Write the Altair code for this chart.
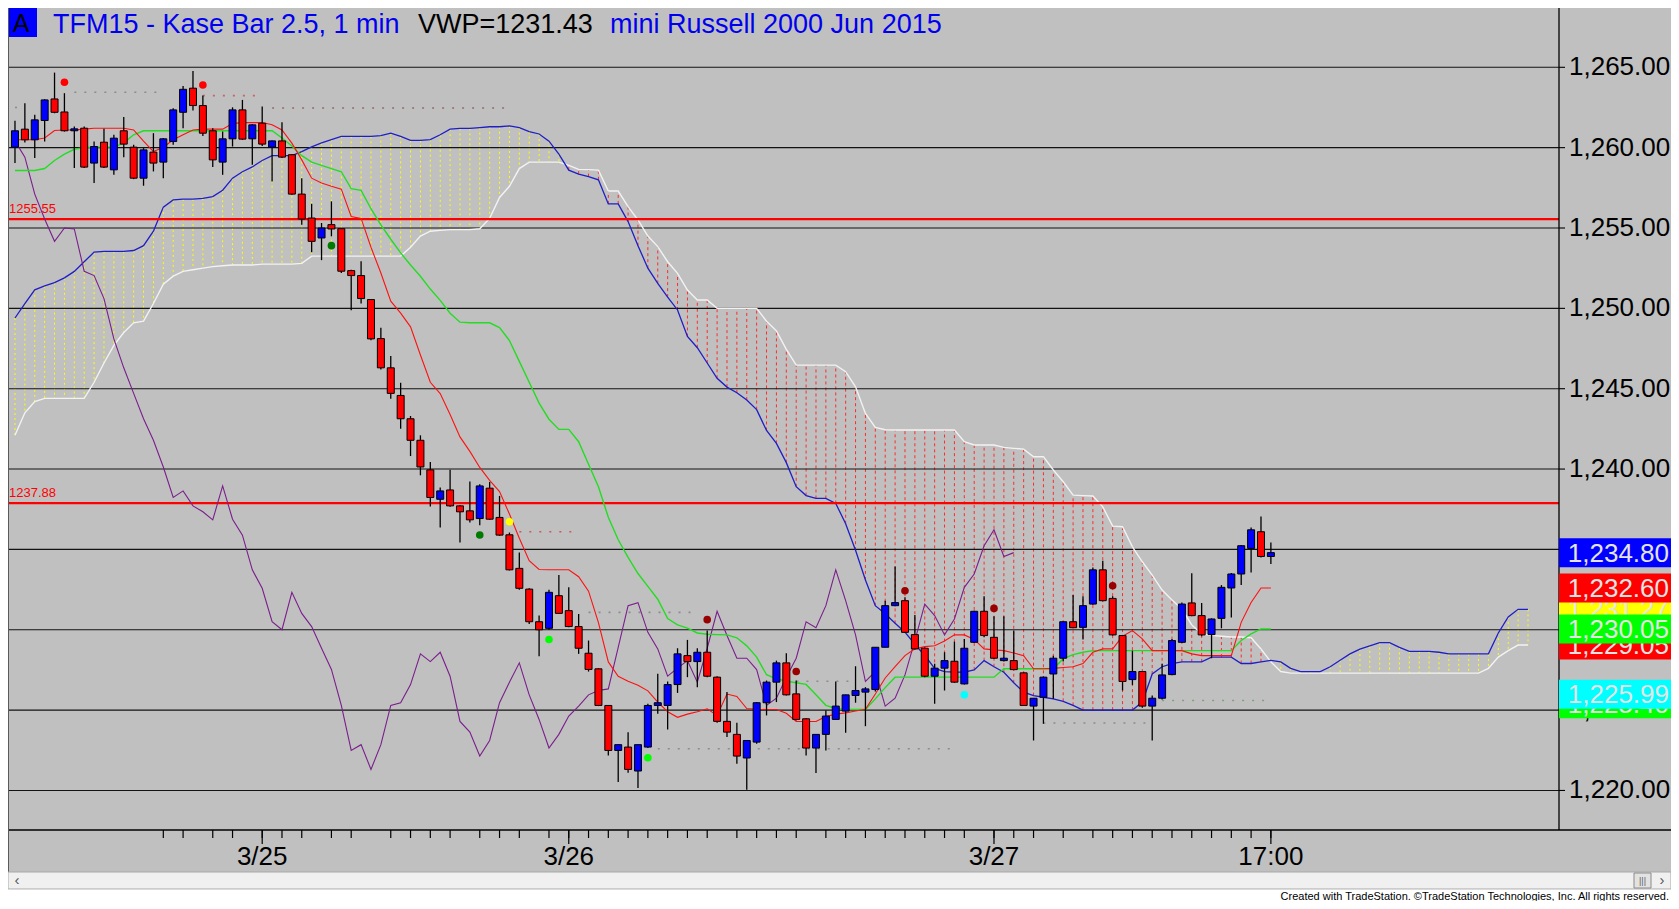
import altair as alt
import pandas as pd

# ---------------- data ----------------
opens = [1260.03, 1261.15, 1260.49, 1261.69, 1263.03, 1262.22, 1261.05, 1261.21, 1259.04, 1260.34,
         1258.62, 1261.05, 1260.03, 1258.10, 1259.72, 1259.10, 1260.38, 1262.20, 1263.70, 1262.62,
         1261.05, 1259.10, 1260.55, 1262.35, 1260.55, 1261.52, 1260.03, 1260.42, 1259.56, 1257.11,
         1255.62, 1254.38, 1255.21, 1254.96, 1252.35, 1252.04, 1250.55, 1248.12, 1246.30, 1244.58,
         1243.13, 1241.79, 1239.95, 1238.12, 1238.70, 1237.71, 1237.40, 1236.92, 1238.81, 1236.99,
         1235.91, 1233.82, 1232.53, 1230.50, 1230.09, 1232.12, 1231.19, 1230.20, 1228.54, 1227.57,
         1225.29, 1222.49, 1222.70, 1221.21, 1222.70, 1225.29, 1225.29, 1226.59, 1228.39, 1228.02,
         1228.60, 1227.05, 1224.30, 1223.49, 1222.02, 1223.01, 1225.46, 1226.74, 1227.94, 1226.01,
         1224.46, 1222.64, 1223.49, 1224.42, 1224.94, 1225.91, 1226.12, 1226.28, 1228.91, 1231.50,
         1231.81, 1229.70, 1228.85, 1227.11, 1227.61, 1228.04, 1226.63, 1229.22, 1231.15, 1229.53,
         1228.08, 1228.08, 1227.32, 1225.25, 1225.80, 1227.25, 1228.23, 1230.50, 1230.15, 1231.60,
         1233.73, 1231.95, 1229.64, 1226.90, 1227.40, 1225.25, 1225.74, 1227.21, 1229.22, 1231.67,
         1230.88, 1229.70, 1230.71, 1232.60, 1233.47, 1235.06, 1236.10, 1234.56]
highs = [1261.67, 1262.76, 1262.04, 1263.01, 1264.67, 1263.39, 1261.31, 1261.31, 1260.38, 1261.17,
         1260.80, 1261.90, 1260.18, 1259.97, 1260.90, 1260.60, 1262.45, 1263.84, 1264.77, 1263.24,
         1261.21, 1261.00, 1262.51, 1262.97, 1261.45, 1262.56, 1260.45, 1261.58, 1259.60, 1258.10,
         1256.51, 1255.31, 1256.66, 1255.00, 1252.41, 1252.93, 1250.58, 1248.79, 1247.03, 1245.37,
         1243.30, 1242.10, 1240.44, 1238.85, 1239.95, 1237.75, 1239.22, 1239.06, 1239.20, 1238.33,
         1236.05, 1234.81, 1232.58, 1230.88, 1232.49, 1233.40, 1232.64, 1230.98, 1229.33, 1227.60,
         1225.32, 1222.85, 1223.63, 1222.85, 1225.39, 1227.26, 1226.78, 1228.85, 1229.37, 1228.85,
         1229.95, 1227.11, 1226.12, 1224.21, 1223.11, 1225.50, 1226.84, 1228.08, 1228.54, 1226.84,
         1224.50, 1223.49, 1224.98, 1226.78, 1225.95, 1227.73, 1226.43, 1228.91, 1231.81, 1233.94,
         1232.02, 1230.92, 1228.90, 1227.88, 1228.60, 1229.26, 1229.43, 1231.19, 1232.08, 1230.84,
         1230.84, 1229.95, 1227.36, 1225.74, 1227.09, 1228.39, 1230.50, 1232.16, 1232.08, 1233.88,
         1234.29, 1232.08, 1229.68, 1228.70, 1227.44, 1225.91, 1227.88, 1229.43, 1231.70, 1233.51,
         1231.67, 1230.71, 1232.78, 1233.53, 1235.27, 1236.36, 1237.05, 1235.43]
lows = [1259.04, 1260.32, 1259.35, 1260.38, 1262.14, 1261.00, 1258.73, 1258.73, 1257.80, 1258.73,
        1258.31, 1259.41, 1258.04, 1257.63, 1258.52, 1258.10, 1260.18, 1261.21, 1262.31, 1260.73,
        1258.79, 1258.31, 1260.07, 1260.49, 1258.93, 1260.11, 1257.90, 1259.35, 1257.07, 1255.21,
        1253.49, 1253.00, 1254.48, 1252.20, 1249.88, 1250.30, 1248.02, 1246.20, 1244.38, 1242.51,
        1240.81, 1239.61, 1237.67, 1236.36, 1237.65, 1235.43, 1236.67, 1236.51, 1236.84, 1235.85,
        1233.69, 1232.49, 1230.36, 1228.35, 1230.00, 1230.98, 1230.15, 1228.50, 1227.40, 1225.25,
        1222.18, 1220.53, 1221.10, 1220.15, 1222.65, 1224.77, 1223.80, 1226.07, 1227.05, 1226.43,
        1227.05, 1224.21, 1223.32, 1221.67, 1220.05, 1222.90, 1224.67, 1225.50, 1225.91, 1224.36,
        1222.18, 1221.08, 1222.49, 1224.40, 1223.59, 1225.46, 1224.00, 1226.16, 1228.91, 1231.46,
        1229.80, 1228.77, 1227.05, 1225.39, 1226.22, 1226.70, 1226.59, 1229.18, 1229.53, 1228.19,
        1228.02, 1227.48, 1225.29, 1223.11, 1224.15, 1225.70, 1228.02, 1230.09, 1229.39, 1231.56,
        1231.77, 1229.64, 1226.22, 1226.57, 1225.14, 1223.11, 1225.66, 1227.17, 1229.18, 1230.84,
        1229.59, 1228.23, 1230.09, 1230.77, 1232.78, 1233.57, 1234.50, 1234.09]
closes = [1261.05, 1260.49, 1261.73, 1262.97, 1262.20, 1261.05, 1261.17, 1258.79, 1260.07, 1258.79,
          1260.59, 1260.22, 1258.10, 1259.86, 1259.04, 1260.55, 1262.35, 1263.63, 1262.62, 1260.90,
          1259.24, 1260.55, 1262.35, 1260.53, 1261.42, 1260.22, 1260.42, 1259.41, 1257.11, 1255.56,
          1254.17, 1255.00, 1254.94, 1252.31, 1252.04, 1250.61, 1248.10, 1246.30, 1244.71, 1243.13,
          1241.79, 1240.13, 1238.23, 1238.64, 1237.71, 1237.34, 1236.84, 1238.95, 1236.88, 1235.89,
          1233.73, 1232.58, 1230.50, 1230.00, 1232.33, 1231.02, 1230.20, 1228.85, 1227.53, 1225.29,
          1222.49, 1222.85, 1221.31, 1222.85, 1225.29, 1225.46, 1226.59, 1228.50, 1228.02, 1228.60,
          1227.11, 1224.30, 1223.63, 1222.14, 1223.11, 1225.46, 1226.74, 1227.94, 1225.95, 1224.42,
          1222.64, 1223.49, 1224.63, 1225.25, 1225.95, 1226.22, 1226.32, 1228.91, 1231.50, 1231.69,
          1229.84, 1228.81, 1227.11, 1227.61, 1228.08, 1226.74, 1228.85, 1231.15, 1229.64, 1228.23,
          1228.23, 1227.52, 1225.29, 1225.74, 1227.05, 1228.23, 1230.50, 1230.13, 1231.50, 1233.73,
          1231.81, 1229.68, 1226.78, 1227.40, 1225.25, 1225.74, 1227.19, 1229.33, 1231.60, 1230.88,
          1229.68, 1230.67, 1232.64, 1233.47, 1235.23, 1236.22, 1234.56, 1234.80]

tenkan = [1260.49, 1260.49, 1260.49, 1260.60, 1261.07, 1261.10, 1261.10, 1261.15, 1261.21, 1261.21,
          1261.21, 1261.21, 1261.10, 1260.40, 1259.76, 1260.03, 1260.49, 1260.80, 1261.10, 1261.15,
          1261.15, 1261.15, 1261.50, 1261.56, 1261.56, 1261.56, 1261.42, 1261.10, 1260.28, 1259.24,
          1258.10, 1257.80, 1257.60, 1257.42, 1255.72, 1255.60, 1253.80, 1252.20, 1250.45, 1249.70,
          1248.85, 1247.10, 1245.40, 1244.70, 1243.40, 1242.00, 1241.10, 1240.10, 1239.30, 1238.60,
          1237.20, 1235.70, 1234.30, 1233.75, 1233.73, 1233.73, 1233.73, 1233.30, 1232.40, 1230.45,
          1228.00, 1227.10, 1226.80, 1226.55, 1226.20, 1225.50, 1224.90, 1224.55, 1224.75, 1224.90,
          1225.08, 1224.67, 1226.00, 1225.85, 1225.10, 1225.05, 1225.04, 1225.04, 1224.80, 1224.30,
          1224.29, 1224.29, 1224.60, 1224.75, 1224.83, 1224.95, 1225.05, 1226.00, 1227.00, 1227.70,
          1228.39, 1228.81, 1228.95, 1229.00, 1229.30, 1229.68, 1229.68, 1229.40, 1228.81, 1228.75,
          1228.70, 1228.55, 1228.39, 1227.57, 1227.57, 1227.60, 1227.65, 1227.70, 1227.90, 1228.60,
          1228.81, 1228.81, 1229.60, 1229.95, 1229.43, 1228.70, 1228.70, 1228.70, 1228.70, 1228.50,
          1228.39, 1228.39, 1228.39, 1228.39, 1230.46, 1231.70, 1232.60, 1232.60]
kijun = [1258.58, 1258.58, 1258.58, 1258.70, 1259.20, 1259.60, 1259.90, 1260.00, 1260.03, 1260.03,
         1260.03, 1260.30, 1260.80, 1261.05, 1261.05, 1261.05, 1261.05, 1261.05, 1261.05, 1261.05,
         1261.05, 1261.05, 1261.05, 1261.05, 1261.05, 1261.05, 1261.05, 1260.60, 1260.10, 1259.50,
         1259.10, 1258.90, 1258.70, 1258.50, 1257.45, 1257.34, 1256.20, 1255.20, 1254.30, 1253.45,
         1252.70, 1252.00, 1251.20, 1250.50, 1249.70, 1249.14, 1249.10, 1249.10, 1249.10, 1248.80,
         1248.00, 1246.70, 1245.40, 1244.10, 1243.10, 1242.47, 1242.47, 1241.70, 1240.30, 1238.90,
         1237.00, 1235.60, 1234.50, 1233.50, 1232.70, 1231.90, 1230.70, 1230.30, 1230.10, 1229.80,
         1229.72, 1229.70, 1229.68, 1229.50, 1229.00, 1228.30, 1227.20, 1226.95, 1226.80, 1226.70,
         1226.60, 1225.95, 1225.30, 1225.10, 1225.04, 1225.04, 1225.04, 1225.70, 1226.40, 1227.05,
         1227.05, 1227.05, 1227.05, 1227.05, 1227.05, 1227.05, 1227.05, 1227.05, 1227.05, 1227.05,
         1227.57, 1227.57, 1227.57, 1227.57, 1227.57, 1227.57, 1228.20, 1228.45, 1228.60, 1228.70,
         1228.70, 1228.70, 1228.70, 1228.70, 1228.70, 1228.70, 1228.70, 1228.70, 1228.70, 1228.70,
         1228.70, 1228.70, 1228.70, 1228.70, 1229.33, 1229.74, 1230.05, 1230.05]
span_a = [1249.40, 1250.30, 1251.15, 1251.40, 1251.60, 1251.90, 1252.30, 1252.90, 1253.50, 1253.55,
          1253.55, 1253.55, 1253.60, 1253.90, 1254.80, 1256.30, 1256.75, 1256.80, 1256.80, 1256.85,
          1256.95, 1257.35, 1258.10, 1258.50, 1258.80, 1259.20, 1259.50, 1259.50, 1259.50, 1259.75,
          1260.05, 1260.30, 1260.50, 1260.70, 1260.70, 1260.70, 1260.70, 1260.75, 1260.90, 1260.70,
          1260.45, 1260.45, 1260.50, 1260.80, 1261.15, 1261.20, 1261.20, 1261.25, 1261.30, 1261.30,
          1261.35, 1261.25, 1261.00, 1260.85, 1260.40, 1259.60, 1258.60, 1258.35, 1258.20, 1258.00,
          1256.50, 1256.50, 1255.40, 1253.90, 1252.50, 1251.55, 1250.70, 1249.90, 1248.25, 1247.55,
          1246.60, 1245.65, 1245.10, 1244.75, 1244.30, 1243.70, 1242.40, 1241.60, 1240.40, 1238.90,
          1238.35, 1238.17, 1238.17, 1237.86, 1236.60, 1234.95, 1233.10, 1231.50, 1231.00, 1230.40,
          1229.85, 1229.10, 1228.40, 1227.60, 1227.40, 1227.36, 1227.36, 1227.50, 1228.08, 1227.70,
          1227.36, 1226.70, 1226.12, 1225.90, 1225.80, 1225.70, 1225.55, 1225.30, 1225.00, 1225.00,
          1225.00, 1225.00, 1225.00, 1225.00, 1225.50, 1227.25, 1227.70, 1227.90, 1228.00, 1228.00,
          1228.00, 1228.30, 1228.30, 1228.30, 1227.90, 1227.90, 1228.00, 1228.10, 1228.00, 1227.60,
          1227.40, 1227.40, 1227.40, 1227.70, 1228.10, 1228.50, 1228.80, 1229.00, 1229.20, 1229.20,
          1228.90, 1228.65, 1228.65, 1228.65, 1228.60, 1228.50, 1228.50, 1228.50, 1228.50, 1228.50,
          1229.80, 1230.80, 1231.27, 1231.27]
span_b = [1242.10, 1243.50, 1244.20, 1244.40, 1244.40, 1244.40, 1244.40, 1244.40, 1245.40, 1246.60,
          1247.70, 1248.50, 1249.10, 1249.20, 1250.30, 1251.50, 1252.00, 1252.30, 1252.40, 1252.50,
          1252.60, 1252.65, 1252.70, 1252.70, 1252.70, 1252.75, 1252.75, 1252.75, 1252.75, 1252.80,
          1253.25, 1253.25, 1253.25, 1253.25, 1253.25, 1253.25, 1253.25, 1253.25, 1253.25, 1253.25,
          1253.80, 1254.50, 1254.80, 1254.85, 1254.90, 1254.90, 1254.90, 1254.95, 1255.60, 1256.90,
          1257.60, 1258.70, 1259.10, 1259.10, 1259.10, 1259.10, 1258.90, 1258.65, 1258.63, 1258.60,
          1257.30, 1257.30, 1256.33, 1255.50, 1254.50, 1253.84, 1252.90, 1252.18, 1251.14, 1250.52,
          1250.52, 1250.00, 1250.00, 1250.00, 1250.00, 1250.00, 1249.20, 1248.60, 1247.45, 1246.47,
          1246.47, 1246.47, 1246.47, 1246.47, 1246.06, 1245.12, 1243.46, 1242.59, 1242.45, 1242.43,
          1242.43, 1242.43, 1242.43, 1242.43, 1242.43, 1242.43, 1241.70, 1241.50, 1241.50, 1241.50,
          1241.35, 1241.29, 1241.24, 1240.77, 1240.77, 1239.94, 1239.21, 1238.38, 1238.35, 1238.32,
          1237.65, 1236.45, 1236.41, 1235.16, 1234.23, 1233.40, 1232.47, 1231.85, 1231.30, 1230.30,
          1229.75, 1229.65, 1229.60, 1229.55, 1229.55, 1229.50, 1228.80, 1228.00, 1227.40, 1227.30,
          1227.30, 1227.30, 1227.30, 1227.30, 1227.30, 1227.30, 1227.30, 1227.30, 1227.30, 1227.30,
          1227.30, 1227.30, 1227.30, 1227.30, 1227.30, 1227.30, 1227.30, 1227.30, 1227.30, 1227.60,
          1228.30, 1228.70, 1229.05, 1229.05]
chikou_lag = 26

# horizontal support / resistance lines
hline_prices = [1255.55, 1237.88]
hline_labels = ["1255.55", "1237.88"]

# faint dotted levels: start bar, end bar, price, colour
lvl_start = [6, 19, 0, 26, 51, 58, 65, 77, 104, 116]
lvl_end = [15, 25, 1, 50, 57, 69, 95, 85, 115, 127]
lvl_price = [1263.45, 1263.24, 1262.50, 1262.47, 1236.10, 1231.08, 1222.60, 1226.80, 1224.20, 1225.60]
lvl_color = ["#8C8C8C", "#C86464", "#8C8C8C", "#946C6C", "#C85A5A", "#8C8C8C", "#8C8C8C", "#8C8C8C", "#8C8C8C", "#7FA07F"]

# signal dots
dot_bar = [5, 19, 32, 47, 50, 54, 64, 70, 79, 90, 96, 99, 111]
dot_price = [1264.07, 1263.90, 1253.90, 1235.90, 1236.72, 1229.39, 1222.04, 1230.63, 1227.40, 1232.43, 1225.95, 1231.33, 1232.74]
dot_color = ["#FF0000", "#FF0000", "#007A00", "#007A00", "#FFFF00", "#00FF00", "#00FF00",
             "#990000", "#990000", "#990000", "#00FFFF", "#990000", "#990000"]

# price boxes on the right (drawing order = stacking order)
box_price = [1229.05, 1231.27, 1230.05, 1232.60, 1234.80, 1225.40, 1225.99]
box_text = ["1,229.05", "1,231.27", "1,230.05", "1,232.60", "1,234.80", "1,225.40", "1,225.99"]
box_color = ["#FF0000", "#FFFF00", "#00FF00", "#FF0000", "#0000FF", "#00FF00", "#00FFFF"]

# time axis
tick_bars = [15, 17, 20, 22, 25, 27, 29, 32, 34, 38, 40, 42, 44, 47, 49, 51, 54, 56, 58, 60, 62, 64,
             66, 68, 70, 73, 75, 77, 79, 82, 84, 86, 88, 90, 92, 94, 96, 99, 101, 103, 106, 109,
             111, 113, 115, 117, 119, 121, 123, 125, 127]
major_bars = [25, 56, 99, 127]
major_labels = ["3/25", "3/26", "3/27", "17:00"]

# price axis
y_ticks = [1220, 1225, 1230, 1235, 1240, 1245, 1250, 1255, 1260, 1265]
y_labels = ["1,220.00", "1,225.00", "1,230.00", "1,235.00", "1,240.00", "1,245.00",
            "1,250.00", "1,255.00", "1,260.00", "1,265.00"]

title_main = "TFM15 - Kase Bar 2.5, 1 min"
title_vwp = "VWP=1231.43"
title_desc = "mini Russell 2000 Jun 2015"
footer = "Created with TradeStation. \u00a9TradeStation Technologies, Inc. All rights reserved."

# ---------------- frames ----------------
n = len(closes)
bars = pd.DataFrame({"i": range(n), "o": opens, "h": highs, "l": lows, "c": closes})
bars["col"] = ["#0000FF" if c >= o else "#FF0000" for o, c in zip(opens, closes)]

cloud = pd.DataFrame({"i": range(len(span_a)), "a": span_a, "b": span_b})
bull = cloud[cloud.a >= cloud.b]
bear = cloud[cloud.a < cloud.b]

lines_t = pd.DataFrame({"i": range(n), "v": tenkan})
lines_k = pd.DataFrame({"i": range(n), "v": kijun})
chik = pd.DataFrame({"i": range(n - chikou_lag), "v": closes[chikou_lag:]})
hl = pd.DataFrame({"p": hline_prices, "t": hline_labels})
lv = pd.DataFrame({"s": lvl_start, "e": lvl_end, "p": lvl_price, "col": lvl_color})
dots = pd.DataFrame({"i": dot_bar, "p": dot_price, "col": dot_color})
ticks = pd.DataFrame({"i": tick_bars})
majors = pd.DataFrame({"i": major_bars, "t": major_labels})
grid = pd.DataFrame({"p": y_ticks, "t": y_labels})
one = pd.DataFrame({"z": [0]})

FONT = "Liberation Sans"
PW, PH = 1551, 822
TOTAL_W, TOTAL_H = 1663, 893

xs = alt.Scale(domain=[-0.2, 155.63], nice=False, zero=False)
ys = alt.Scale(domain=[1217.54, 1268.69], nice=False, zero=False)


def X(f):
    return alt.X(f, type="quantitative", scale=xs, axis=None)


def Y(f):
    return alt.Y(f, type="quantitative", scale=ys, axis=None)


layers = []

# cloud fill (dotted vertical rules)
layers.append(alt.Chart(bull).mark_rule(color="#FFFF00", strokeWidth=1, strokeDash=[2, 3]).encode(
    x=X("i"), y=Y("a"), y2=alt.Y2("b")))
layers.append(alt.Chart(bear).mark_rule(color="#FF2A2A", strokeWidth=1, strokeDash=[3, 3]).encode(
    x=X("i"), y=Y("a"), y2=alt.Y2("b")))
# price grid lines
layers.append(alt.Chart(grid).mark_rule(color="#000000", strokeWidth=1.1, opacity=0.9).encode(
    y=Y("p"), x=alt.value(0), x2=alt.value(PW)))
# cloud borders
layers.append(alt.Chart(cloud).mark_line(color="#F2F2F2", strokeWidth=1.4).encode(x=X("i"), y=Y("b")))
layers.append(alt.Chart(cloud).mark_line(color="#1E1EC8", strokeWidth=1.3).encode(x=X("i"), y=Y("a")))
# dotted levels
layers.append(alt.Chart(lv).mark_rule(strokeWidth=1.6, strokeDash=[2, 8]).encode(
    x=X("s"), x2=alt.X2("e"), y=Y("p"), color=alt.Color("col:N", scale=None)))
# red horizontal lines + labels
layers.append(alt.Chart(hl).mark_rule(color="#FF0000", strokeWidth=2.2).encode(
    y=Y("p"), x=alt.value(0), x2=alt.value(PW)))
layers.append(alt.Chart(hl).mark_text(color="#FF0000", font=FONT, fontSize=13, align="left",
                                      baseline="bottom", dy=-3).encode(
    y=Y("p"), x=alt.value(1), text="t:N"))
# chikou, kijun, tenkan
layers.append(alt.Chart(chik).mark_line(color="#7A1E8C", strokeWidth=1.1).encode(x=X("i"), y=Y("v")))
layers.append(alt.Chart(lines_k).mark_line(color="#22DD22", strokeWidth=1.4).encode(x=X("i"), y=Y("v")))
layers.append(alt.Chart(lines_t).mark_line(color="#FF1010", strokeWidth=1.1).encode(x=X("i"), y=Y("v")))
# candles
layers.append(alt.Chart(bars).mark_rule(color="#000000", strokeWidth=1.3).encode(
    x=X("i"), y=Y("l"), y2=alt.Y2("h")))
layers.append(alt.Chart(bars).mark_bar(size=7, stroke="#000000", strokeWidth=1).encode(
    x=X("i"), y=Y("o"), y2=alt.Y2("c"), color=alt.Color("col:N", scale=None)))
# signal dots
layers.append(alt.Chart(dots).mark_circle(size=58, opacity=1).encode(
    x=X("i"), y=Y("p"), color=alt.Color("col:N", scale=None)))

# price axis: line, ticks, labels
layers.append(alt.Chart(one).mark_rule(color="#000000", strokeWidth=1.3).encode(
    x=alt.value(PW), y=alt.value(0), y2=alt.value(PH)))
layers.append(alt.Chart(grid).mark_rule(color="#000000", strokeWidth=1.1).encode(
    y=Y("p"), x=alt.value(PW), x2=alt.value(PW + 6)))
layers.append(alt.Chart(grid).mark_text(font=FONT, fontSize=26, color="#000000", align="left",
                                        baseline="middle").encode(
    y=Y("p"), x=alt.value(PW + 10), text="t:N"))

# title
layers.append(alt.Chart(one).mark_rect(color="#0000FF").encode(
    x=alt.value(0), x2=alt.value(29), y=alt.value(0), y2=alt.value(29)))
layers.append(alt.Chart(one).mark_text(text="A", font=FONT, fontSize=25, color="#000000",
                                       align="center", baseline="alphabetic").encode(
    x=alt.value(13), y=alt.value(24)))
for txt, px, col in [(title_main, 45, "#0000EE"), (title_vwp, 410, "#000000"), (title_desc, 602, "#0000EE")]:
    layers.append(alt.Chart(one).mark_text(text=txt, font=FONT, fontSize=27, color=col,
                                           align="left", baseline="alphabetic").encode(
        x=alt.value(px), y=alt.value(25)))

# time axis: separator, ticks, labels
layers.append(alt.Chart(one).mark_rule(color="#000000", strokeWidth=1.5).encode(
    x=alt.value(0), x2=alt.value(TOTAL_W), y=alt.value(PH)))
layers.append(alt.Chart(ticks).mark_rule(color="#000000", strokeWidth=1.2).encode(
    x=X("i"), y=alt.value(PH), y2=alt.value(PH + 8)))
layers.append(alt.Chart(majors).mark_rule(color="#000000", strokeWidth=1.2).encode(
    x=X("i"), y=alt.value(PH), y2=alt.value(PH + 14)))
layers.append(alt.Chart(majors).mark_text(font=FONT, fontSize=26, color="#000000",
                                          align="center", baseline="middle").encode(
    x=X("i"), y=alt.value(849), text="t:N"))

# price boxes
for p, t, c in zip(box_price, box_text, box_color):
    d = pd.DataFrame({"p": [p], "t": [t]})
    layers.append(alt.Chart(d).mark_tick(orient="horizontal", size=TOTAL_W - PW, thickness=29,
                                         color=c, opacity=1).encode(
        y=Y("p"), x=alt.value((PW + TOTAL_W) / 2)))
    layers.append(alt.Chart(d).mark_text(font=FONT, fontSize=26, color="#E4E4E4", align="right",
                                         baseline="middle", dy=1).encode(
        y=Y("p"), x=alt.value(TOTAL_W - 2), text="t:N"))

# left frame line
layers.append(alt.Chart(one).mark_rule(color="#5A5A5A", strokeWidth=1).encode(
    x=alt.value(0.5), y=alt.value(0), y2=alt.value(864)))

# scrollbar
layers.append(alt.Chart(one).mark_rect(fill="#F0F0F0", stroke="#A8A8A8", strokeWidth=1).encode(
    x=alt.value(0), x2=alt.value(TOTAL_W), y=alt.value(864), y2=alt.value(881)))
layers.append(alt.Chart(one).mark_rect(fill="#E2E2E2", stroke="#8A8A8A", strokeWidth=1).encode(
    x=alt.value(1626), x2=alt.value(1643), y=alt.value(865), y2=alt.value(880)))
layers.append(alt.Chart(one).mark_text(text="|||", font=FONT, fontSize=9, color="#606060",
                                       align="center", baseline="middle").encode(
    x=alt.value(1634.5), y=alt.value(872.5)))
layers.append(alt.Chart(one).mark_text(text="\u2039", font=FONT, fontSize=15, color="#555555",
                                       align="center", baseline="middle").encode(
    x=alt.value(9), y=alt.value(872)))
layers.append(alt.Chart(one).mark_text(text="\u203a", font=FONT, fontSize=15, color="#555555",
                                       align="center", baseline="middle").encode(
    x=alt.value(1654), y=alt.value(872)))
# footer
layers.append(alt.Chart(one).mark_rect(fill="#FFFFFF").encode(
    x=alt.value(0), x2=alt.value(TOTAL_W), y=alt.value(881.5), y2=alt.value(TOTAL_H)))
layers.append(alt.Chart(one).mark_text(text=footer, font="Liberation Sans Narrow, Liberation Sans",
                                       fontSize=11, color="#000000", align="right",
                                       baseline="alphabetic").encode(
    x=alt.value(TOTAL_W - 2), y=alt.value(891.5)))

chart = alt.layer(*layers).properties(
    width=PW, height=PH,
    padding={"left": 0, "top": 0, "right": TOTAL_W - PW, "bottom": TOTAL_H - PH},
    autosize=alt.AutoSizeParams(type="none"),
).configure(background="#C0C0C0").configure_view(stroke=None, fill="#C0C0C0")

chart.save("out.html", embed_options={"renderer": "svg", "actions": False})
